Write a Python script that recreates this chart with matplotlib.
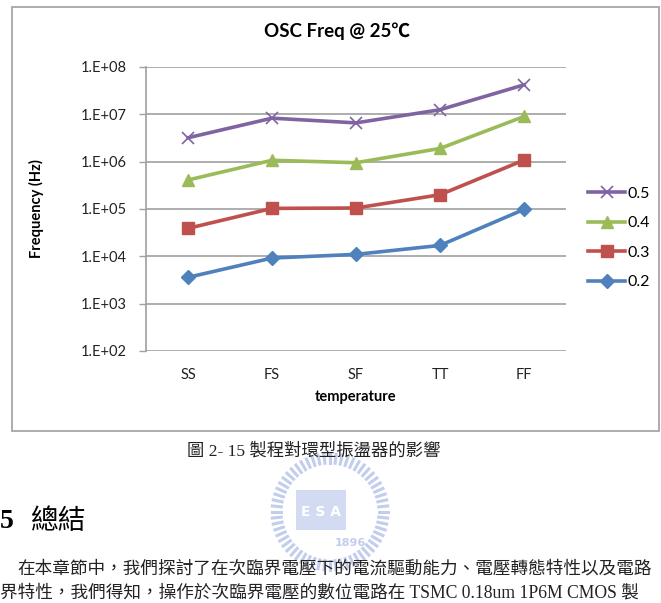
import matplotlib
matplotlib.use("Agg")
import matplotlib.pyplot as plt
from matplotlib.patches import Rectangle
import numpy as np

# ---------------------------------------------------------- datos
categorias = ['SS', 'FS', 'SF', 'TT', 'FF']
serie_05 = [3.2e6, 8.3e6, 6.6e6, 1.25e7, 4.2e7]
serie_04 = [4.1e5, 1.07e6, 0.95e6, 1.9e6, 9.0e6]
serie_03 = [3.9e4, 1.03e5, 1.05e5, 2.0e5, 1.08e6]
serie_02 = [3.6e3, 9.2e3, 1.1e4, 1.7e4, 9.8e4]
etiquetas_y = ['1.E+02', '1.E+03', '1.E+04', '1.E+05', '1.E+06', '1.E+07', '1.E+08']

W, H = 661, 603
fig = plt.figure(figsize=(W / 100, H / 100), dpi=100)
fig.patch.set_facecolor('white')

def fx(px):
    return px / W

def fy(py):
    return 1 - py / H

# marco del grafico
fig.add_artist(Rectangle((fx(12), fy(431)), fx(659) - fx(12), fy(7) - fy(431),
                         transform=fig.transFigure, fill=False,
                         edgecolor='#a6a6a6', linewidth=1.3))

ax = fig.add_axes([fx(146), fy(351), fx(566) - fx(146), fy(67) - fy(351)])
x = np.arange(len(categorias))

# orden: 0.2, 0.3, 0.4, 0.5 (la leyenda se invierte despues)
l2, = ax.plot(x, serie_02, color='#4F81BD', lw=2.6, marker='D', ms=7.5,
              label='0.2', clip_on=False)
l3, = ax.plot(x, serie_03, color='#C0504D', lw=2.6, marker='s', ms=8.5,
              label='0.3', clip_on=False)
l4, = ax.plot(x, serie_04, color='#9BBB59', lw=2.6, marker='^', ms=9,
              label='0.4', clip_on=False)
l5, = ax.plot(x, serie_05, color='#8064A2', lw=2.6, marker='x', ms=9,
              mew=1.2, label='0.5', clip_on=False)

ax.set_yscale('log')
ax.set_ylim(1e2, 1e8)
ax.set_xlim(-0.5, len(categorias) - 0.5)
ax.set_yticks([10.0 ** k for k in range(2, 9)])
ax.set_yticklabels(etiquetas_y)
ax.yaxis.set_minor_locator(matplotlib.ticker.NullLocator())
ax.set_xticks(x)
ax.set_xticklabels(categorias)
ax.grid(axis='y', color='#a0a0a0', lw=1.2)
ax.set_axisbelow(True)
for s in ['top', 'right']:
    ax.spines[s].set_visible(False)
ax.spines['bottom'].set_visible(False)
ax.spines['left'].set_color('#a0a0a0')
ax.spines['left'].set_linewidth(1.2)
ax.tick_params(axis='y', length=5, width=1.0, color='#a0a0a0', pad=9,
               labelsize=10.5, labelcolor='#222222')
ax.tick_params(axis='x', length=0, pad=12, labelsize=10.5, labelcolor='#222222')
for t in ax.get_xticklabels() + ax.get_yticklabels():
    t.set_family('Lato')

ax.set_xlabel('temperature', fontsize=10.5, fontweight='bold', family='Lato',
              labelpad=6)
ax.set_ylabel('Frequency (Hz)', fontsize=10.5, fontweight='bold', family='Lato')
ax.yaxis.set_label_coords((44 - 146) / (566 - 146), 0.5)

fig.text(fx(337), fy(31), 'OSC Freq @ 25℃', ha='center', va='center',
         fontsize=13.5, fontweight='bold', family=['Lato', 'Noto Sans CJK TC'])

leg = ax.legend(handles=[l5, l4, l3, l2], loc='center left',
                bbox_to_anchor=(fx(574), fy(238)), bbox_transform=fig.transFigure,
                frameon=False, handlelength=2.3, handletextpad=0.15,
                labelspacing=0.95, prop={'family': 'Lato', 'size': 11.5})

# ---------------------------------------------------------- pagina
fig.text(fx(314), fy(451), '圖 2- 15 製程對環型振盪器的影響', ha='center', va='center',
         fontsize=12.5, family=['Liberation Serif', 'Noto Sans CJK TC'],
         color='#222222')

# marca de agua (logo)
cx, cy, r = 330, 512, 58
for ang in np.linspace(0, 2 * np.pi, 60, endpoint=False):
    x0, y0 = cx + r * np.cos(ang), cy + r * np.sin(ang)
    x1, y1 = cx + (r - 9) * np.cos(ang), cy + (r - 9) * np.sin(ang)
    fig.add_artist(plt.Line2D([fx(x0), fx(x1)], [fy(y0), fy(y1)],
                              transform=fig.transFigure, color='#c3cdec', lw=2.2))
fig.add_artist(Rectangle((fx(296), fy(530)), fx(50), fy(490) - fy(530),
                         transform=fig.transFigure, facecolor='#d3dbf2',
                         edgecolor='none'))
fig.text(fx(321), fy(512), 'E S A', ha='center', va='center', fontsize=10,
         color='white', fontweight='bold')
fig.text(fx(350), fy(543), '1896', ha='center', va='center', fontsize=8,
         color='#c3cdec', fontweight='bold')

fig.text(fx(0), fy(521), '5', ha='left', va='center', fontsize=20,
         fontweight='bold', family='Liberation Serif')
fig.text(fx(30), fy(521), '總結', ha='left', va='center', fontsize=20,
         family='Noto Sans CJK TC')

fig.text(fx(17), fy(569),
         '在本章節中，我們探討了在次臨界電壓下的電流驅動能力、電壓轉態特性以及電路',
         ha='left', va='center', fontsize=12.7, family='Noto Sans CJK TC',
         color='#222222')
fig.text(fx(0), fy(593),
         '界特性，我們得知，操作於次臨界電壓的數位電路在 TSMC 0.18um 1P6M CMOS 製',
         ha='left', va='center', fontsize=12.7,
         family=['Liberation Serif', 'Noto Sans CJK TC'], color='#222222')

fig.savefig('out.png', dpi=100, facecolor='white')
